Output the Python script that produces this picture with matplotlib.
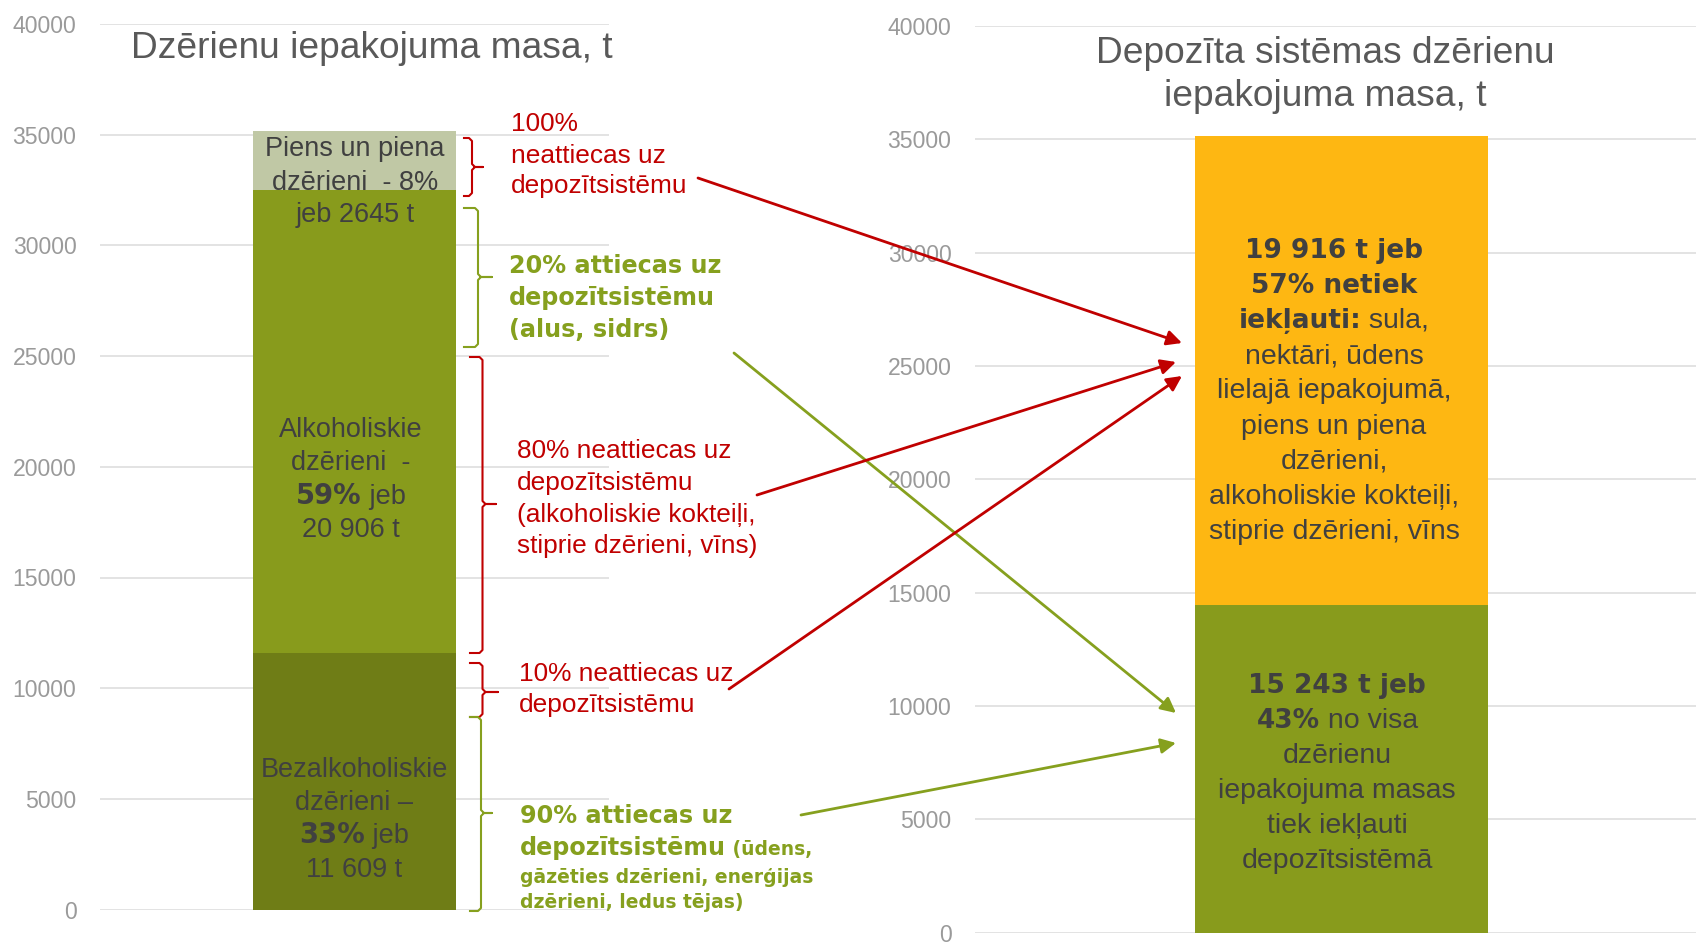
import matplotlib
matplotlib.use("Agg")
import matplotlib.pyplot as plt
from matplotlib.transforms import IdentityTransform
from matplotlib.patches import FancyArrowPatch
from matplotlib.lines import Line2D

plt.rcParams['font.family'] = ['Liberation Sans', 'DejaVu Sans']

# data
left_segments = ["Bezalkoholiskie dzērieni", "Alkoholiskie dzērieni", "Piens un piena dzērieni"]
left_mass = [11609, 20906, 2645]
left_colors = ['#6F7D16', '#889B1C', '#C0C8A5']

right_segments = ["Iekļauti depozītsistēmā", "Netiek iekļauti"]
right_mass = [14460, 20690]
right_colors = ['#889B1C', '#FEB712']

yticks = list(range(0, 40001, 5000))

RED = '#C00000'
GREEN = '#86A01E'
DARK = '#404040'
TITLE = '#595959'

W, H = 1696, 943
fig = plt.figure(figsize=(W / 100, H / 100), dpi=100)
R = fig.canvas.get_renderer()
PX = IdentityTransform()

REG = dict(family=['Liberation Sans', 'DejaVu Sans'])
BOLD = dict(family=['DejaVu Sans'], fontweight='bold')


def style_axes(ax):
    ax.set_ylim(0, 40000)
    ax.set_yticks(yticks)
    ax.set_xticks([])
    ax.grid(axis='y', color='#E3E3E3', lw=1.4)
    ax.set_axisbelow(True)
    for s in ax.spines.values():
        s.set_visible(False)
    ax.tick_params(axis='y', length=0, pad=17, labelsize=16.6, labelcolor='#9A9A9A')
    ax.patch.set_alpha(0)


axL = fig.add_axes([100 / W, (H - 909.6) / H, 509 / W, 885.6 / H])
style_axes(axL)
axL.set_xlim(-0.5, 0.5)
bottom = 0
for m, c in zip(left_mass, left_colors):
    axL.bar(0, m, bottom=bottom, width=0.4, color=c)
    bottom += m

axR = fig.add_axes([975 / W, (H - 932.7) / H, 721 / W, 906.7 / H])
style_axes(axR)
axR.set_xlim(-0.5087, 0.4913)
bottom = 0
for m, c in zip(right_mass, right_colors):
    axR.bar(0, m, bottom=bottom, width=0.407, color=c)
    bottom += m


def width(s, size, bold):
    st = BOLD if bold else REG
    a = fig.text(0, 0, '|' + s + '|', transform=PX, fontsize=size, **st)
    b = fig.text(0, 0, '||', transform=PX, fontsize=size, **st)
    w = a.get_window_extent(R).width - b.get_window_extent(R).width
    a.remove()
    b.remove()
    return w


def put(x, y, parts, size, color, ha='center', bsize=None):
    # parts: list of (text, bold); y is baseline from the top in pixels
    if isinstance(parts, str):
        parts = [(parts, False)]
    bsize = bsize or size
    sizes = [bsize if b else size for s, b in parts]
    ws = [width(s, z, b) for (s, b), z in zip(parts, sizes)]
    x0 = x - sum(ws) / 2 if ha == 'center' else x
    for (s, b), w, z in zip(parts, ws, sizes):
        fig.text(x0, H - y, s, transform=PX, ha='left', va='baseline',
                 fontsize=z, color=color, **(BOLD if b else REG))
        x0 += w
    return x0


# titles
put(372, 58, "Dzērienu iepakojuma masa, t", 26.7, TITLE)
put(1325, 63, "Depozīta sistēmas dzērienu", 26.7, TITLE)
put(1325, 106, "iepakojuma masa, t", 26.7, TITLE)

# left bar labels
for y, p in zip([156, 189.5, 222], ["Piens un piena", "dzērieni  - 8%", "jeb 2645 t"]):
    put(355, y, p, 19.5, DARK)
for y, p in zip([437, 470, 504, 537],
                ["Alkoholiskie", "dzērieni  -", [("59%", True), (" jeb", False)], "20 906 t"]):
    put(351, y, p, 19.5, DARK, bsize=19.8)
for y, p in zip([777, 810, 843, 877],
                ["Bezalkoholiskie", "dzērieni –", [("33%", True), (" jeb", False)], "11 609 t"]):
    put(354, y, p, 19.5, DARK, bsize=19.8)

# right bar labels
yellow_lines = [[("19 916 t jeb", True)], [("57% netiek", True)],
                [("iekļauti:", True), (" sula,", False)], "nektāri, ūdens",
                "lielajā iepakojumā,", "piens un piena", "dzērieni,",
                "alkoholiskie kokteiļi,", "stiprie dzērieni, vīns"]
for i, p in enumerate(yellow_lines):
    put(1334, 257.5 + 35.2 * i, p, 20.5, DARK, bsize=19)
green_lines = [[("15 243 t jeb", True)], [("43%", True), (" no visa", False)],
               "dzērienu", "iepakojuma masas", "tiek iekļauti", "depozītsistēmā"]
for i, p in enumerate(green_lines):
    put(1337, 693 + 35 * i, p, 20.5, DARK, bsize=19)

# annotation texts
for y, p in zip([131, 163, 193], ["100%", "neattiecas uz", "depozītsistēmu"]):
    put(511, y, p, 18.9, RED, ha='left')
for y, p in zip([273, 305, 337], ["20% attiecas uz", "depozītsistēmu", "(alus, sidrs)"]):
    put(509, y, [(p, True)], 17.2, GREEN, ha='left')
for y, p in zip([458, 490, 522, 553], ["80% neattiecas uz", "depozītsistēmu",
                                       "(alkoholiskie kokteiļi,", "stiprie dzērieni, vīns)"]):
    put(517, y, p, 18.9, RED, ha='left')
for y, p in zip([681, 712], ["10% neattiecas uz", "depozītsistēmu"]):
    put(519, y, p, 18.9, RED, ha='left')
put(520, 823, [("90% attiecas uz", True)], 17.2, GREEN, ha='left')
xe = put(520, 855, [("depozītsistēmu", True)], 17.2, GREEN, ha='left')
put(xe, 855, [(" (ūdens,", True)], 13.5, GREEN, ha='left')
put(520, 883, [("gāzēties dzērieni, enerģijas", True)], 13.5, GREEN, ha='left')
put(520, 908, [("dzērieni, ledus tējas)", True)], 13.5, GREEN, ha='left')


# braces
def brace(tip, spine, point, top, mid, bot, color):
    xs = [tip, spine - 3, spine, spine, spine + 3, point, spine + 3, spine, spine, spine - 3, tip]
    ys = [top, top, top + 3, mid - 3, mid, mid, mid, mid + 3, bot - 3, bot, bot]
    fig.add_artist(Line2D(xs, [H - v for v in ys], transform=PX, color=color, lw=1.5))


brace(464, 472, 483, 138, 167, 196, RED)
brace(464, 478, 492, 208, 277, 347, GREEN)
brace(470, 482.5, 496, 357, 504, 653, RED)
brace(470, 482.5, 498, 663, 692, 717, RED)
brace(470, 481, 492, 717, 813, 911, GREEN)

# arrows
arrows = [((698, 178), (1182, 343), RED),
          ((734, 353), (1176, 713), GREEN),
          ((757, 495), (1176, 362), RED),
          ((729, 689), (1182, 376), RED),
          ((801, 815), (1176, 743), GREEN)]
for (x0, y0), (x1, y1), c in arrows:
    fig.add_artist(FancyArrowPatch((x0, H - y0), (x1, H - y1), transform=PX,
                                   arrowstyle='-|>,head_length=0.6,head_width=0.3',
                                   mutation_scale=15, color=c, lw=2,
                                   shrinkA=0, shrinkB=0))

fig.savefig('out.png', dpi=100)
